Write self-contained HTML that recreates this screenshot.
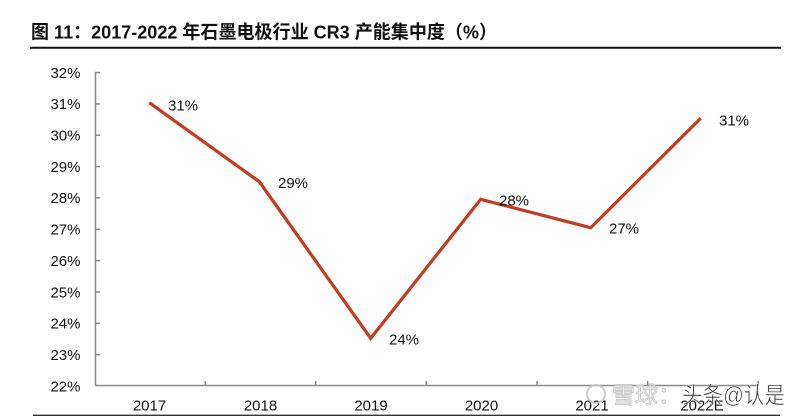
<!DOCTYPE html>
<html>
<head>
<meta charset="utf-8">
<style>
html,body{margin:0;padding:0;background:#fff;}
svg{display:block;}
</style>
</head>
<body>
<svg width="800" height="419" viewBox="0 0 800 419" xmlns="http://www.w3.org/2000/svg">
  <rect width="800" height="419" fill="#fff"/>
  <!-- Title -->
  <text x="31" y="38.5" font-family="'Liberation Sans','Noto Sans CJK SC',sans-serif" font-weight="bold" font-size="18.5" fill="#111" textLength="466" lengthAdjust="spacingAndGlyphs">图 11：2017-2022 年石墨电极行业 CR3 产能集中度（%）</text>
  <line x1="30" y1="47.7" x2="781" y2="47.7" stroke="#111" stroke-width="2"/>

  <!-- Axes -->
  <g stroke="#8a8a8a" stroke-width="1.5" fill="none">
    <line x1="95.5" y1="72" x2="95.5" y2="386"/>
    <line x1="95" y1="385.5" x2="759" y2="385.5"/>
    <!-- y ticks -->
    <line x1="95" y1="72.5" x2="100" y2="72.5"/>
    <line x1="95" y1="103.9" x2="100" y2="103.9"/>
    <line x1="95" y1="135.2" x2="100" y2="135.2"/>
    <line x1="95" y1="166.6" x2="100" y2="166.6"/>
    <line x1="95" y1="197.9" x2="100" y2="197.9"/>
    <line x1="95" y1="229.3" x2="100" y2="229.3"/>
    <line x1="95" y1="260.6" x2="100" y2="260.6"/>
    <line x1="95" y1="292.0" x2="100" y2="292.0"/>
    <line x1="95" y1="323.3" x2="100" y2="323.3"/>
    <line x1="95" y1="354.7" x2="100" y2="354.7"/>
    <!-- x ticks -->
    <line x1="205.3" y1="381" x2="205.3" y2="386"/>
    <line x1="315.7" y1="381" x2="315.7" y2="386"/>
    <line x1="426.3" y1="381" x2="426.3" y2="386"/>
    <line x1="537" y1="381" x2="537" y2="386"/>
    <line x1="647.6" y1="381" x2="647.6" y2="386"/>
    <line x1="758.3" y1="381" x2="758.3" y2="386"/>
  </g>

  <!-- Y labels -->
  <g font-family="'Liberation Sans',Arial,sans-serif" font-size="15" fill="#111" text-anchor="end">
    <text x="80.5" y="77.8">32%</text>
    <text x="80.5" y="109.2">31%</text>
    <text x="80.5" y="140.5">30%</text>
    <text x="80.5" y="171.9">29%</text>
    <text x="80.5" y="203.2">28%</text>
    <text x="80.5" y="234.6">27%</text>
    <text x="80.5" y="265.9">26%</text>
    <text x="80.5" y="297.3">25%</text>
    <text x="80.5" y="328.6">24%</text>
    <text x="80.5" y="360.0">23%</text>
    <text x="80.5" y="391.3">22%</text>
  </g>

  <!-- X labels -->
  <g font-family="'Liberation Sans',Arial,sans-serif" font-size="15" fill="#111" text-anchor="middle">
    <text x="149.5" y="410.5">2017</text>
    <text x="260.5" y="410.5">2018</text>
    <text x="371" y="410.5">2019</text>
    <text x="481.5" y="410.5">2020</text>
    <text x="592" y="410.5">2021</text>
    <text x="702" y="410.5">2022E</text>
  </g>

  <!-- Series -->
  <polyline points="149.3,102.7 259.3,181.7 370.7,338.3 480.7,199.3 590.7,227.7 700.7,118.3" fill="none" stroke="#C33B20" stroke-width="3.2" stroke-linejoin="miter"/>

  <!-- Data labels -->
  <g font-family="'Liberation Sans',Arial,sans-serif" font-size="15" fill="#111">
    <text x="168" y="110.3">31%</text>
    <text x="278" y="188">29%</text>
    <text x="389" y="344.3">24%</text>
    <text x="499" y="205.3">28%</text>
    <text x="609" y="233.3">27%</text>
    <text x="719" y="125.3">31%</text>
  </g>

  <!-- Bottom rule -->
  <line x1="33" y1="415.3" x2="780" y2="415.3" stroke="#333" stroke-width="1.3"/>

  <!-- Watermark -->
  <g opacity="0.9">
    <circle cx="596" cy="394" r="9" fill="none" stroke="#c8c8c8" stroke-width="2"/>
    <text x="612" y="403" font-family="'Liberation Sans','Noto Sans CJK SC',sans-serif" font-size="23" fill="#fff" stroke="#c4c4c4" stroke-width="1">雪球：</text>
    <text x="682" y="403" font-family="'Liberation Sans','Noto Sans CJK SC',sans-serif" font-size="23" fill="#222" stroke="#fff" stroke-width="0.6" textLength="103" lengthAdjust="spacingAndGlyphs">头条@认是</text>
  </g>
</svg>
</body>
</html>
